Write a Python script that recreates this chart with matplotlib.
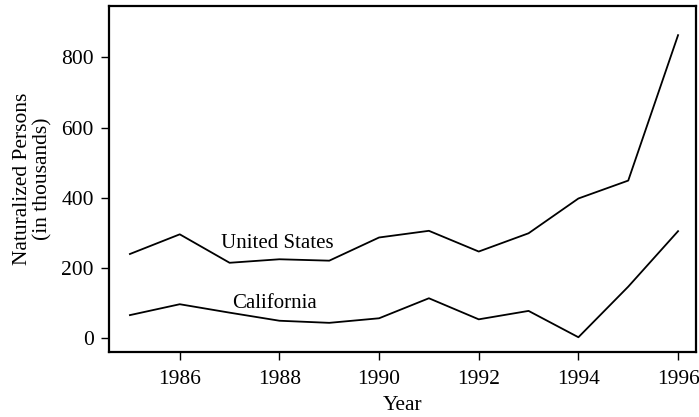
import matplotlib
matplotlib.use("Agg")
import matplotlib.pyplot as plt

years = [1985, 1986, 1987, 1988, 1989, 1990, 1991, 1992, 1993, 1994, 1995, 1996]
us = [240, 296, 215, 225, 221, 287, 306, 247, 299, 398, 449, 863]
california = [66, 97, 73, 50, 44, 57, 114, 54, 78, 3, 147, 305]
xticks = [1986, 1988, 1990, 1992, 1994, 1996]
yticks = [0, 200, 400, 600, 800]

plt.rcParams['font.family'] = ['Liberation Serif', 'DejaVu Serif']

fig = plt.figure(figsize=(6.99, 4.17), dpi=100)
ax = fig.add_axes([109/699, 1 - 352/417, (696-109)/699, (352-6)/417])

ax.plot(years, us, color='black', lw=1.3)
ax.plot(years, california, color='black', lw=1.3)

ax.text(1987.95, 270, 'United States', ha='center', va='center', fontsize=15)
ax.text(1987.9, 100, 'California', ha='center', va='center', fontsize=15)

ax.set_xlim(1984.58, 1996.36)
ax.set_ylim(-39, 946)
ax.set_xticks(xticks)
ax.set_yticks(yticks)
ax.tick_params(axis='both', direction='out', length=6, width=1, labelsize=15.5)
ax.tick_params(axis='x', pad=7)
ax.tick_params(axis='y', pad=5)
for s in ax.spines.values():
    s.set_linewidth(1.6)

ax.set_xlabel('Year', fontsize=15.5, labelpad=5)
ax.set_ylabel('Naturalized Persons\n(in thousands)', fontsize=15.5, labelpad=6, linespacing=1.1)

fig.savefig('out.png', dpi=100)
